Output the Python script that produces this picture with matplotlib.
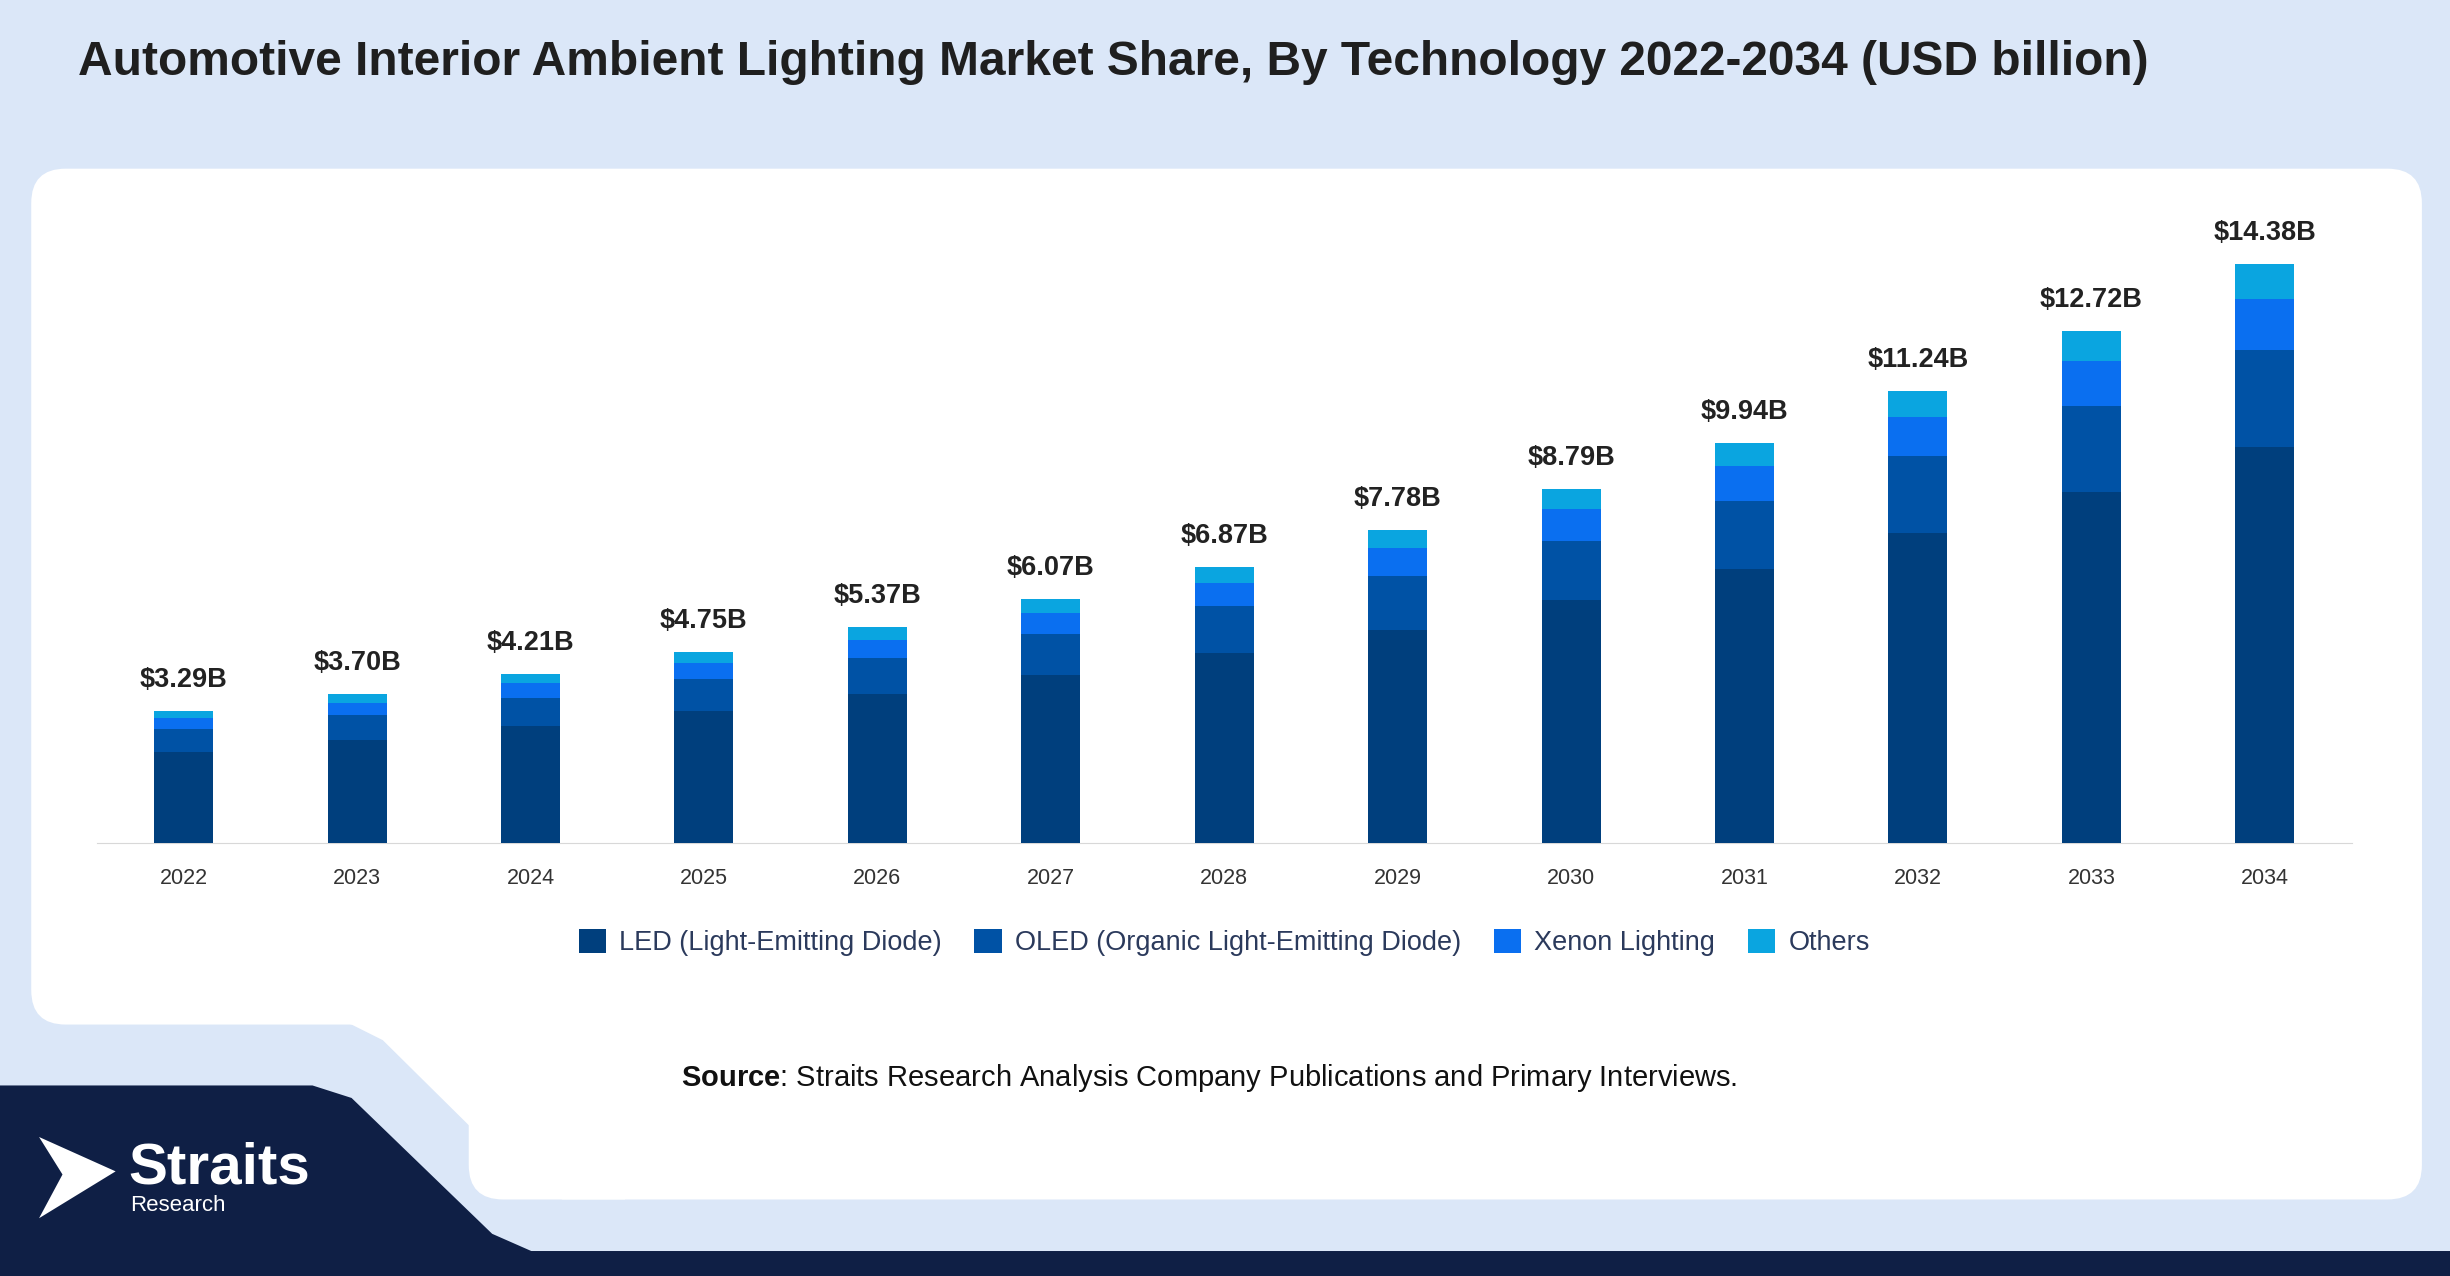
import matplotlib
matplotlib.use("Agg")
import matplotlib.pyplot as plt
from matplotlib.patches import FancyBboxPatch, Polygon

plt.rcParams['font.family'] = ['Liberation Sans', 'DejaVu Sans']
plt.rcParams['mathtext.fontset'] = 'custom'
plt.rcParams['mathtext.bf'] = 'Liberation Sans:bold'
plt.rcParams['mathtext.rm'] = 'Liberation Sans'

years = ['2022','2023','2024','2025','2026','2027','2028','2029','2030','2031','2032','2033','2034']
led   = [2.28,2.56,2.91,3.28,3.71,4.19,4.73,5.31,6.05,6.82,7.71,8.72,9.84]
oled  = [0.55,0.62,0.70,0.80,0.89,1.01,1.16,1.32,1.47,1.67,1.90,2.13,2.40]
xenon = [0.28,0.31,0.36,0.40,0.45,0.52,0.58,0.70,0.78,0.89,0.97,1.12,1.28]
others= [0.18,0.21,0.24,0.27,0.32,0.35,0.40,0.45,0.49,0.56,0.66,0.75,0.86]
totals= [3.29,3.70,4.21,4.75,5.37,6.07,6.87,7.78,8.79,9.94,11.24,12.72,14.38]
series_names = ['LED (Light-Emitting Diode)','OLED (Organic Light-Emitting Diode)','Xenon Lighting','Others']
colors = ['#003f7d','#0052a5','#0a6ff0','#0aa5e0']

W, H = 1568, 817
fig = plt.figure(figsize=(24.5, 12.76), dpi=100)
fig.patch.set_facecolor('#dbe7f8')
bg = fig.add_axes([0,0,1,1]); bg.set_xlim(0,W); bg.set_ylim(H,0); bg.axis('off')

bg.add_patch(FancyBboxPatch((20,108),1530,548, boxstyle="round,pad=0,rounding_size=22", fc='white', ec='none'))
bg.add_patch(FancyBboxPatch((300,300),1250,468, boxstyle="round,pad=0,rounding_size=22", fc='white', ec='none'))
bg.add_patch(Polygon([(20,600),(225,656),(245,666),(340,760),(360,768),(400,768),(400,600)], closed=True, fc='white', ec='none'))
bg.add_patch(Polygon([(0,695),(200,695),(225,703),(315,790),(340,801),(1568,801),(1568,817),(0,817)], closed=True, fc='#0f1f45', ec='none'))

bg.text(50,40,'Automotive Interior Ambient Lighting Market Share, By Technology 2022-2034 (USD billion)',
        fontsize=34.5, fontweight='bold', color='#1f1f1f', va='center', ha='left')
bg.text(436,690,r'$\bf{Source}$: Straits Research Analysis Company Publications and Primary Interviews.',
        fontsize=21, color='#111', va='center', ha='left')

bg.add_patch(Polygon([(25,728),(74,750),(25,780),(40,752)], closed=True, fc='white', ec='none'))
bg.text(82,748,'Straits', fontsize=42, fontweight='bold', color='white', va='center', ha='left')
bg.text(83,772,'Research', fontsize=16, color='white', va='center', ha='left')

ax = fig.add_axes([62/W, 1-540/H, (1505-62)/W, (540-130)/H])
ax.set_xlim(-0.5,12.5); ax.set_ylim(0,15.9)
x = list(range(len(years)))
bottom = [0]*len(years)
for vals, c, n in zip([led,oled,xenon,others], colors, series_names):
    ax.bar(x, vals, bottom=bottom, width=0.34, color=c, label=n, zorder=3)
    bottom = [b+v for b,v in zip(bottom, vals)]
for xi, t in zip(x, totals):
    ax.text(xi, t+0.45, f'${t:.2f}B', ha='center', va='bottom', fontsize=19.5, fontweight='bold', color='#222')
ax.set_xticks(x); ax.set_xticklabels(years, fontsize=15.5, color='#333')
ax.set_yticks([])
for s in ['top','right','left']: ax.spines[s].set_visible(False)
ax.spines['bottom'].set_color('#d8d8d8')
ax.tick_params(axis='x', length=0, pad=18)
ax.set_facecolor('none')
leg = ax.legend(loc='upper center', bbox_to_anchor=(0.5, -0.095), ncol=4, frameon=False, fontsize=19.5,
                handlelength=1.0, handleheight=1.0, columnspacing=1.2, handletextpad=0.5)
for t in leg.get_texts(): t.set_color('#2b3a5c')

fig.savefig('out.png', dpi=100, facecolor=fig.get_facecolor())
